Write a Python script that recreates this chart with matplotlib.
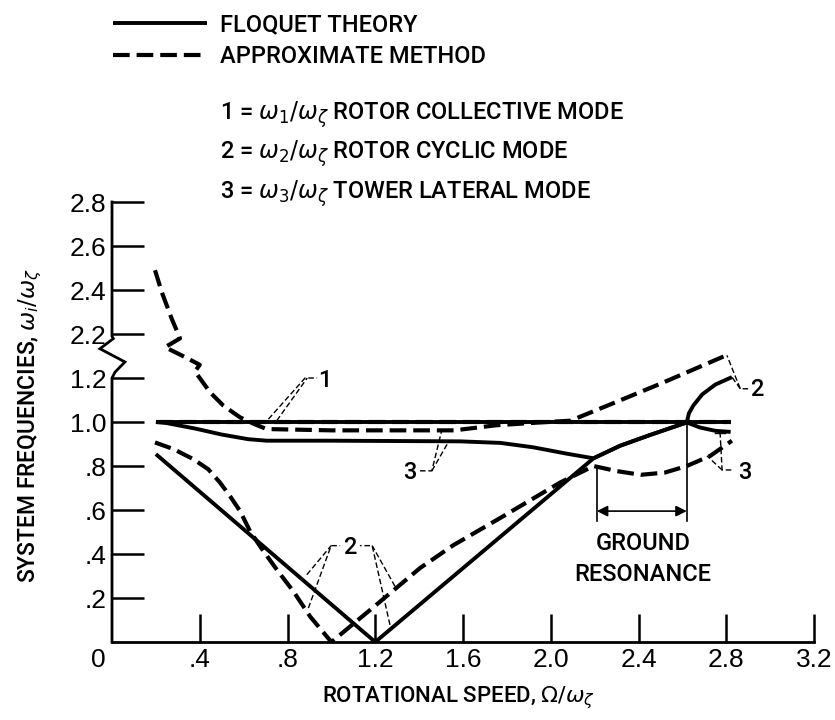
import matplotlib.pyplot as plt

plt.rcParams['font.family'] = ['Roboto', 'DejaVu Sans']
plt.rcParams['font.weight'] = 'medium'
plt.rcParams['mathtext.fontset'] = 'dejavusans'
plt.rcParams['lines.scale_dashes'] = False

W, H = 835, 720


def brk(vals):
    # values above the axis break (2.2 - 2.8) sit 0.8 lower on the drawn scale
    return [v - 0.8 if v >= 2.0 else v for v in vals]


# Floquet theory (solid lines)
floq_x1 = [0.2, 2.82]
floq_y1 = [1.0, 1.0]
floq_x2 = [0.2, 1.2, 2.195, 2.316, 2.45, 2.62, 2.63, 2.65, 2.69, 2.75, 2.826]
floq_y2 = [0.854, 0.0, 0.835, 0.892, 0.94, 0.998, 1.04, 1.075, 1.125, 1.17, 1.204]
floq_x3 = [0.2, 0.25, 0.38, 0.5, 0.62, 0.705, 1.0, 1.587, 1.77, 1.92, 2.073, 2.195,
           2.316, 2.45, 2.62, 2.68, 2.75, 2.82]
floq_y3 = [1.0, 0.995, 0.97, 0.943, 0.922, 0.915, 0.915, 0.912, 0.905, 0.885, 0.856, 0.835,
           0.892, 0.94, 0.998, 0.975, 0.96, 0.955]

# approximate method (dashed lines)
appr_x1 = [0.2, 2.82]
appr_y1 = [1.0, 1.0]
appr_x2 = [0.196, 0.28, 0.371, 0.439, 0.492, 0.538, 0.584, 0.629, 0.675, 0.751, 0.827,
           0.903, 1.0, 1.2, 1.404, 1.556, 1.784, 2.043, 2.149, 2.195, 2.30, 2.41, 2.52,
           2.62, 2.727, 2.826]
appr_y2 = [0.907, 0.877, 0.831, 0.785, 0.725, 0.663, 0.595, 0.504, 0.435, 0.329, 0.23,
           0.116, 0.0, 0.165, 0.336, 0.44, 0.572, 0.725, 0.777, 0.80, 0.777, 0.76, 0.77,
           0.80, 0.846, 0.915]
appr_x3 = [0.196, 0.227, 0.272, 0.31, 0.242, 0.333, 0.40, 0.378, 0.447, 0.508, 0.584,
           0.65, 0.705, 1.0, 1.56, 1.75, 1.95, 2.09, 2.24, 2.50, 2.80]
appr_y3 = [2.49, 2.39, 2.27, 2.18, 2.14, 2.095, 2.06, 2.03, 1.135, 1.074, 1.021,
           0.99, 0.968, 0.962, 0.962, 0.985, 0.998, 1.006, 1.067, 1.174, 1.303]

xticks = [0.4, 0.8, 1.2, 1.6, 2.0, 2.4, 2.8, 3.2]
xticklabels = ['.4', '.8', '1.2', '1.6', '2.0', '2.4', '2.8', '3.2']
yticks = [0.2, 0.4, 0.6, 0.8, 1.0, 1.2, 2.2, 2.4, 2.6, 2.8]
yticklabels = ['.2', '.4', '.6', '.8', '1.0', '1.2', '2.2', '2.4', '2.6', '2.8']

fig = plt.figure(figsize=(W / 100, H / 100), dpi=100)
ax = fig.add_axes([112 / W, 1 - 642 / H, 702 / W, 440 / H])

solid = dict(color='black', lw=2.8, solid_capstyle='butt', solid_joinstyle='round')
dashed = dict(color='black', lw=3.0, dashes=(12, 5), dash_capstyle='butt')
thin = dict(color='black', lw=1.0, dashes=(4, 2), clip_on=False)

l1, = ax.plot(floq_x1, floq_y1, label='FLOQUET THEORY', **solid)
ax.plot(floq_x2, floq_y2, **solid)
ax.plot(floq_x3, floq_y3, **solid)
l2, = ax.plot(appr_x1, appr_y1, label='APPROXIMATE METHOD', **dashed)
ax.plot(appr_x2, appr_y2, **dashed)
ax.plot(appr_x3, brk(appr_y3), **dashed)

ax.set_xlim(0, 3.2)
ax.set_ylim(0, 2.0)
for s in ['top', 'right', 'left']:
    ax.spines[s].set_visible(False)
ax.spines['bottom'].set_linewidth(2)

# left axis line with the break
ax.plot([0, 0, 0.014, 0.059, -0.055, 0.006, 0, 0],
        [0, 1.2, 1.227, 1.273, 1.333, 1.379, 1.39, 2.0],
        color='black', lw=2, clip_on=False, solid_joinstyle='miter')

ax.set_xticks(xticks)
ax.set_xticklabels(xticklabels)
ax.set_yticks(brk(yticks))
ax.set_yticklabels(yticklabels)
ax.tick_params(axis='x', direction='in', length=20, width=1.8, pad=4.5, labelsize=19)
ax.tick_params(axis='y', direction='in', length=23, width=1.8, pad=4, labelsize=19)
for lab in ax.get_xticklabels() + ax.get_yticklabels():
    lab.set_fontfamily('Liberation Sans')
ax.annotate('0', xy=(0, 0), xytext=(-4.5, -4.5), textcoords='offset points',
            ha='right', va='top', fontsize=19, family='Liberation Sans', annotation_clip=False)

# mode labels and leader lines
ax.text(0.97, 1.19, '1', fontsize=17, va='center', ha='center')
ax.plot([0.713, 0.88, 0.935], [1.013, 1.2, 1.2], **thin)
ax.plot([0.751, 0.89], [1.006, 1.2], **thin)

ax.text(1.085, 0.428, '2', fontsize=17, va='center', ha='center')
ax.plot([0.895, 0.999, 1.04], [0.154, 0.438, 0.438], **thin)
ax.plot([0.888, 0.999], [0.306, 0.438], **thin)
ax.plot([1.267, 1.186, 1.13], [0.078, 0.438, 0.438], **thin)
ax.plot([1.29, 1.186], [0.253, 0.438], **thin)

ax.text(1.359, 0.772, '3', fontsize=17, va='center', ha='center')
ax.plot([1.404, 1.458, 1.503], [0.778, 0.778, 0.962], **thin)
ax.plot([1.458, 1.537], [0.778, 0.915], **thin)

ax.text(2.886, 0.772, '3', fontsize=17, va='center', ha='center')
ax.plot([2.823, 2.781, 2.772], [0.782, 0.782, 0.95], **thin)
ax.plot([2.781, 2.712], [0.782, 0.846], **thin)
ax.plot([2.75, 2.795], [0.952, 0.952], color='black', lw=1.0)

ax.text(2.94, 1.15, '2', fontsize=17, va='center', ha='center', clip_on=False)
ax.plot([2.9, 2.864, 2.803], [1.151, 1.151, 1.303], **thin)
ax.plot([2.864, 2.826], [1.151, 1.204], **thin)

# ground resonance bracket
ax.plot([2.21, 2.21], [0.79, 0.55], color='black', lw=1.2)
ax.plot([2.62, 2.62], [1.0, 0.55], color='black', lw=1.2)
ax.annotate('', xy=(2.21, 0.595), xytext=(2.62, 0.595),
            arrowprops=dict(arrowstyle='<|-|>', lw=1.2, color='black', mutation_scale=16,
                            shrinkA=0, shrinkB=0))
ax.text(2.42, 0.45, 'GROUND', fontsize=17, ha='center', va='center')
ax.text(2.42, 0.306, 'RESONANCE', fontsize=17, ha='center', va='center')

# axis titles
fig.text(322 / W, 1 - 702 / H, r'ROTATIONAL SPEED, $\Omega/\omega_\zeta$', fontsize=16,
         ha='left', va='baseline')
fig.text(35 / W, 1 - 583 / H, r'SYSTEM FREQUENCIES, $\omega_i/\omega_\zeta$', fontsize=16.5,
         rotation=90, rotation_mode='anchor', ha='left', va='baseline')

# key
fig.legend(handles=[l1, l2], loc='upper left', bbox_to_anchor=(113 / W, 1 - 13 / H),
           frameon=False, fontsize=17, handlelength=4.0, handletextpad=0.55,
           labelspacing=0.38, borderpad=0, borderaxespad=0)
fig.text(220 / W, 1 - 119.5 / H, r'1 = $\omega_1/\omega_\zeta$ ROTOR COLLECTIVE MODE',
         fontsize=17, va='baseline')
fig.text(220 / W, 1 - 158.5 / H, r'2 = $\omega_2/\omega_\zeta$ ROTOR CYCLIC MODE',
         fontsize=17, va='baseline')
fig.text(220 / W, 1 - 198.5 / H, r'3 = $\omega_3/\omega_\zeta$ TOWER LATERAL MODE',
         fontsize=17, va='baseline')

fig.savefig('out.png', dpi=100)
